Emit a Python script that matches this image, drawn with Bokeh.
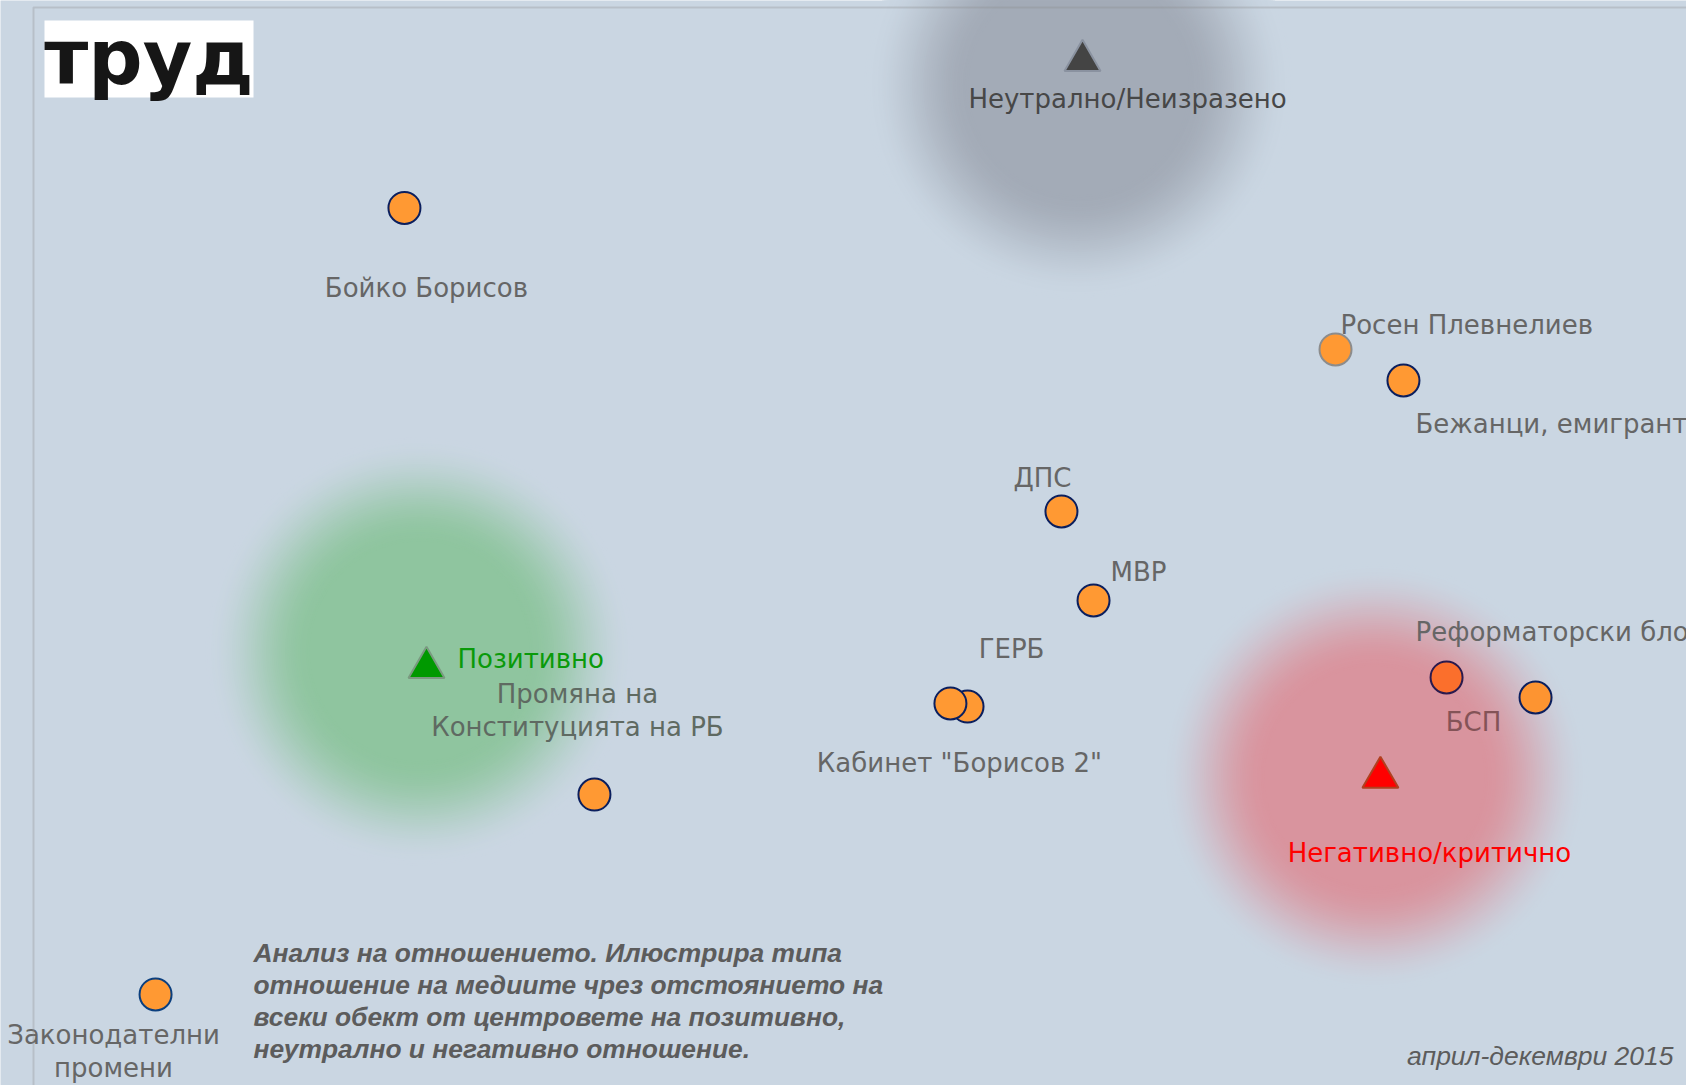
from bokeh.plotting import figure
from bokeh.models import Range1d, BoxAnnotation, ColumnDataSource
from bokeh.core.properties import value
from bokeh.embed import file_html
from bokeh.resources import INLINE

# ---------------- data ----------------
item_names = ["Бойко Борисов", "Росен Плевнелиев", "Бежанци, емигранти", "ДПС", "МВР",
              "ГЕРБ", "Кабинет \"Борисов 2\"", "Промяна на\nКонституцията на РБ",
              "Реформаторски блок", "БСП", "Законодателни\nпромени"]
item_x = [22.55, 79.15, 83.28, 62.49, 64.44, 56.78, 55.74, 34.10, 85.90, 91.31, 7.42]
item_y = [52.86, 44.26, 42.37, 34.41, 29.00, 22.55, 22.74, 17.20, 24.32, 23.10, 5.05]

cat_names = ["Позитивно", "Неутрално/Неизразено", "Негативно/критично"]
cat_x = [23.89, 63.77, 81.88]
cat_y = [24.92, 61.82, 18.24]

blob_x = [23.47, 63.53, 81.52]
blob_y = [25.90, 60.30, 18.30]

caption_text = ("Анализ на отношението. Илюстрира типа\n"
                "отношение на медиите чрез отстоянието на\n"
                "всеки обект от центровете на позитивно,\n"
                "неутрално и негативно отношение.")
period_text = "април-декември 2015"
logo_text = "труд"

# ---------------- layout / styles ----------------
S = 16.45            # pixels per data unit
W, H = 1686, 1085
BG_RGB = (202, 214, 226)
BG = "#%02x%02x%02x" % BG_RGB

lab_dx = [22, 5, 12, -19, 17, 44, 9, -17, -31, -62, -42]
lab_dy = [80, -24, 43, -33, -28, -58, 60, -84, -45, 24, 57]
lab_align = ["center", "left", "left", "center", "left", "center", "center",
             "center", "left", "center", "center"]
lab_color = ["#666666", "#666666", "#666666", "#666666", "#666666", "#666666",
             "#666666", "#5f6a62", "#666666", "#845357", "#666666"]
item_fill = ["#ff9933", "#ff9933", "#ff9933", "#ff9933", "#ff9933", "#ff9933",
             "#ff9933", "#ff9933", "#fb6f2c", "#fd9431", "#ff9933"]
item_line = ["#0b1f5e", "#8c8c8c", "#0b1f5e", "#0b1f5e", "#0b1f5e", "#0b1f5e",
             "#0b1f5e", "#0b1f5e", "#2a1a4e", "#0b1f5e", "#0b3f7e"]

cat_fill = ["#009900", "#444444", "#ff0000"]
cat_line = ["#7a9a80", "#8a92a0", "#b04020"]
cat_text_color = ["#0a9a0a", "#474747", "#ff0000"]
cat_dx = [31, 45, 49]
cat_dy = [-9, 38, 76]
cat_align = ["left", "center", "center"]

blob_core = [(143, 197, 159), (163, 171, 183), (217, 148, 158)]


def px_x(px):
    return (px - 33) / S


def px_y(py):
    return (1077 - py) / S


p = figure(width=W, height=H, output_backend="svg", toolbar_location=None,
           x_range=Range1d(px_x(0), px_x(W)), y_range=Range1d(px_y(H), px_y(0)),
           x_axis_location=None, y_axis_location=None,
           min_border_left=0, min_border_right=0, min_border_top=0, min_border_bottom=0)
p.grid.visible = False
p.background_fill_color = BG
p.border_fill_color = BG
p.outline_line_color = None

# soft blobs: opaque concentric rings blending background -> core colour
N = 56
R_IN, R_OUT = 110, 214
for bx, by, core in zip(blob_x, blob_y, blob_core):
    radii, cols = [], []
    for i in range(N):
        r = R_OUT - (R_OUT - R_IN) * i / (N - 1)
        t = (R_OUT - r) / (R_OUT - R_IN)
        s = 3 * t * t - 2 * t ** 3
        rgb = tuple(int(round(b + s * (c - b))) for b, c in zip(BG_RGB, core))
        radii.append(r)
        cols.append("#%02x%02x%02x" % rgb)
    p.circle(x=[bx] * N, y=[by] * N, radius=radii, radius_units="screen",
             fill_color=cols, line_color=None)

# item labels
lab_src = ColumnDataSource(dict(
    x=[x + dx / S for x, dx in zip(item_x, lab_dx)],
    y=[y - dy / S for y, dy in zip(item_y, lab_dy)],
    text=item_names, align=lab_align, color=lab_color))
p.text(x="x", y="y", text="text", source=lab_src, text_align="align",
       text_baseline="middle", text_font=value("DejaVu Sans"), text_font_size="26px",
       text_color="color", text_line_height=1.12)

# item circles
pt_src = ColumnDataSource(dict(x=item_x, y=item_y, fill=item_fill, line=item_line))
p.scatter(x="x", y="y", source=pt_src, size=32, marker="circle",
          fill_color="fill", line_color="line", line_width=2)

# frame lines (left and top only)
p.add_layout(BoxAnnotation(left=px_x(33), right=px_x(W + 40), top=px_y(7), bottom=px_y(H + 40),
                           fill_alpha=0, line_color="#8c8c8c", line_width=2))

# category triangles and labels
cat_src = ColumnDataSource(dict(x=cat_x, y=cat_y, fill=cat_fill, line=cat_line))
p.scatter(x="x", y="y", source=cat_src, marker="triangle", size=36,
          fill_color="fill", line_color="line", line_width=2)
cat_lab = ColumnDataSource(dict(
    x=[x + dx / S for x, dx in zip(cat_x, cat_dx)],
    y=[y - dy / S for y, dy in zip(cat_y, cat_dy)],
    text=cat_names, align=cat_align, color=cat_text_color))
p.text(x="x", y="y", text="text", source=cat_lab, text_align="align",
       text_baseline="middle", text_font=value("DejaVu Sans"), text_font_size="26px",
       text_color="color")

# logo
p.rect(x=[px_x(148.5)], y=[px_y(58.5)], width=209, height=77,
       width_units="screen", height_units="screen", fill_color="white", line_color=None)
p.text(x=[px_x(148.5)], y=[px_y(57)], text=[logo_text], text_align="center",
       text_baseline="middle", text_font=value("DejaVu Sans"), text_font_style="bold",
       text_font_size="76px", text_color="#161616")

# caption
p.text(x=[px_x(253)], y=[px_y(1000.5)], text=[caption_text], text_align="left",
       text_baseline="middle", text_font=value("Liberation Sans"),
       text_font_style="bold italic", text_font_size="26.4px", text_color="#5c5c5c",
       text_line_height=1.06)

# period
p.text(x=[px_x(1673)], y=[px_y(1055)], text=[period_text], text_align="right",
       text_baseline="middle", text_font=value("Liberation Sans"),
       text_font_style="italic", text_font_size="26.5px", text_color="#5c5c5c")

open("out.html", "w").write(file_html(p, INLINE))
